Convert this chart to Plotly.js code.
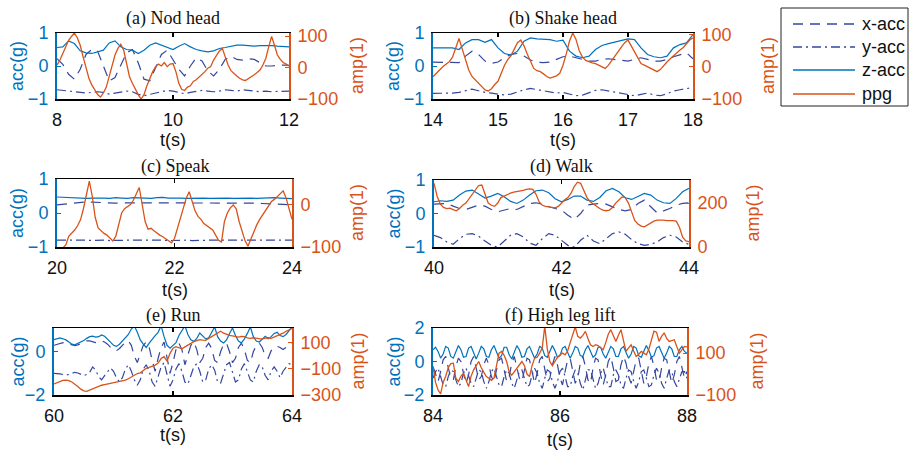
<!DOCTYPE html>
<html><head><meta charset="utf-8">
<script src="https://cdn.plot.ly/plotly-3.0.1.min.js"></script>
<style>html,body{margin:0;padding:0;background:#fff}#chart{width:909px;height:451px}</style>
</head><body><div id="chart"></div>
<script>
// ---------------- DATA ----------------
const panelTitles = ["(a) Nod head","(b) Shake head","(c) Speak","(d) Walk","(e) Run","(f) High leg lift"];
const seriesNames = ["x-acc","y-acc","z-acc","ppg"];

// (a) Nod head, 8-12 s
const nodStart = 8;
const nodX = [0.22,0.05,-0.25,-0.4,-0.1,0.35,0.5,0.45,0.0,-0.45,-0.35,0.0,0.4,0.5,0.1,-0.4,-0.45,-0.05,0.35,0.48,0.2,-0.1,-0.3,0.0,0.25,0.15,-0.15,-0.3,-0.1,0.2,0.3,0.2,0.18,0.22,0.2,0.1,0.0,0.0,0.02,0.03,0.02];
const nodY = [-0.72,-0.74,-0.76,-0.78,-0.8,-0.82,-0.8,-0.78,-0.8,-0.85,-0.82,-0.78,-0.76,-0.78,-0.86,-0.9,-0.86,-0.8,-0.76,-0.74,-0.76,-0.8,-0.84,-0.8,-0.76,-0.74,-0.76,-0.78,-0.76,-0.72,-0.74,-0.76,-0.72,-0.74,-0.76,-0.78,-0.76,-0.78,-0.77,-0.76,-0.76];
const nodZ = [0.56,0.58,0.76,0.68,0.46,0.40,0.38,0.42,0.48,0.70,0.76,0.58,0.50,0.48,0.38,0.48,0.63,0.70,0.63,0.56,0.50,0.60,0.68,0.58,0.50,0.46,0.43,0.46,0.53,0.56,0.60,0.63,0.63,0.61,0.60,0.62,0.63,0.62,0.60,0.58,0.58];
const nodPpg = [8,24,45,66,87,99,110,95,71,34,3,-34,-55,-71,-86,-94,-81,-62,-29,8,40,61,74,55,8,-29,-50,-69,-86,-100,-86,-58,-34,-13,3,11,5,16,3,11,13,-13,-50,-69,-73,-62,-58,-44,-39,-31,-20,-13,-2,3,24,40,53,61,34,8,-10,-20,-27,-34,-39,-41,-35,-31,-23,-16,-8,8,29,66,99,71,40,26,16,11,5];

// (b) Shake head, 14-18 s
const shakeStart = 14;
const shakeX = [0.12,0.12,0.12,0.12,0.1,0.3,0.45,0.35,0.15,0.08,0.12,0.25,0.35,0.38,0.3,0.18,0.12,0.1,0.12,0.2,0.28,0.3,0.25,0.2,0.15,0.15,0.2,0.22,0.2,0.18,0.15,0.2,0.25,0.2,0.15,0.15,0.2,0.28,0.35,0.4,0.22];
const shakeY = [-0.83,-0.83,-0.83,-0.82,-0.8,-0.74,-0.7,-0.75,-0.8,-0.82,-0.85,-0.88,-0.85,-0.78,-0.72,-0.68,-0.72,-0.76,-0.8,-0.82,-0.8,-0.85,-0.9,-0.88,-0.8,-0.74,-0.72,-0.76,-0.8,-0.84,-0.86,-0.9,-0.86,-0.82,-0.88,-0.9,-0.84,-0.76,-0.72,-0.68,-0.65];
const shakeZ = [0.55,0.55,0.55,0.55,0.5,0.7,0.8,0.8,0.72,0.8,0.55,0.38,0.33,0.45,0.75,0.85,0.82,0.8,0.8,0.75,0.78,0.45,0.3,0.25,0.3,0.5,0.62,0.68,0.72,0.78,0.82,0.8,0.55,0.35,0.28,0.25,0.3,0.55,0.65,0.7,0.95];
const shakePpg = [-31,-20,-10,0,8,16,30,60,88,55,20,-10,-30,-41,-50,-62,-72,-75,-68,-55,-45,-20,5,22,35,55,75,83,65,40,15,-5,-12,-15,-22,-30,-35,-32,-28,-20,5,40,80,105,85,50,30,20,15,12,10,5,0,-5,5,20,35,50,62,75,83,65,45,25,10,5,0,-5,-12,-15,-8,5,15,25,35,45,52,60,72,83,90];

// (c) Speak, 20-24 s
const speakStart = 20;
const speakX = [0.24,0.26,0.28,0.3,0.32,0.33,0.32,0.31,0.3,0.3,0.29,0.3,0.3,0.29,0.29,0.3,0.3,0.29,0.3,0.3,0.29,0.3,0.29,0.3,0.3,0.29,0.3,0.3,0.29,0.3,0.3,0.31,0.3,0.3,0.29,0.28,0.27,0.26,0.25,0.25,0.24];
const speakY = [-0.8,-0.81,-0.8,-0.8,-0.79,-0.8,-0.81,-0.8,-0.8,-0.81,-0.8,-0.79,-0.8,-0.8,-0.81,-0.8,-0.8,-0.79,-0.8,-0.81,-0.8,-0.8,-0.8,-0.81,-0.8,-0.79,-0.8,-0.8,-0.81,-0.8,-0.8,-0.8,-0.79,-0.8,-0.81,-0.8,-0.8,-0.8,-0.81,-0.8,-0.8];
const speakZ = [0.47,0.46,0.45,0.44,0.45,0.43,0.44,0.45,0.44,0.43,0.45,0.44,0.43,0.45,0.44,0.44,0.43,0.45,0.46,0.44,0.45,0.44,0.43,0.44,0.45,0.44,0.43,0.44,0.45,0.44,0.43,0.44,0.45,0.44,0.43,0.44,0.45,0.45,0.44,0.43,0.42];
const speakPpg = [-110,-108,-102,-95,-75,-68,-60,-50,-36,-10,25,55,20,-30,-55,-62,-68,-72,-80,-86,-75,-50,-20,-10,-5,0,10,25,40,0,-40,-58,-56,-62,-68,-72,-76,-80,-85,-90,-80,-55,-30,-5,15,30,5,-15,-28,-35,-45,-50,-55,-60,-72,-84,-88,-40,-20,-8,-1,-10,-40,-65,-85,-98,-80,-62,-48,-35,-25,-15,-5,7,12,18,25,32,15,-10,-35];

// (d) Walk, 40-44 s
const walkStart = 40;
const walkX = [0.28,0.3,0.3,0.22,0.15,0.12,0.18,0.25,0.22,0.12,0.05,0.1,0.15,0.12,0.2,0.3,0.32,0.28,0.2,0.15,0.1,-0.05,-0.18,0.0,0.25,0.28,0.3,0.28,0.2,0.12,0.08,0.12,0.3,0.4,0.2,0.02,0.08,0.15,0.25,0.3,0.32];
const walkY = [-0.65,-0.72,-0.85,-0.92,-0.75,-0.62,-0.6,-0.68,-0.82,-0.95,-1.0,-0.82,-0.65,-0.6,-0.7,-0.88,-0.95,-0.75,-0.6,-0.65,-0.8,-0.95,-1.0,-0.8,-0.65,-0.82,-0.9,-0.75,-0.6,-0.55,-0.62,-0.78,-0.9,-0.95,-0.92,-0.85,-0.72,-0.65,-0.7,-0.85,-0.92];
const walkZ = [0.35,0.38,0.36,0.4,0.55,0.67,0.7,0.58,0.46,0.52,0.6,0.5,0.36,0.3,0.4,0.55,0.68,0.7,0.62,0.44,0.35,0.42,0.52,0.52,0.4,0.36,0.48,0.68,0.75,0.65,0.47,0.42,0.52,0.6,0.55,0.4,0.32,0.3,0.45,0.65,0.75];
const walkPpg = [290,230,195,180,175,177,170,165,175,190,200,220,245,265,280,282,240,200,190,185,200,225,232,240,245,250,252,255,258,262,265,262,240,205,190,185,182,180,178,185,200,215,225,245,275,295,290,255,225,206,195,185,175,168,165,168,180,200,215,228,225,200,160,120,105,95,92,100,110,118,122,123,122,120,121,120,118,90,45,28,24];

// (e) Run, 60-64 s
const runStart = 60;
const runX = [0.3,0.35,0.4,0.42,0.4,0.35,0.3,0.28,0.32,0.38,0.45,0.5,0.5,0.45,0.42,0.45,0.5,0.45,0.35,0.2,0.1,0.05,0.15,0.3,0.45,0.5,0.3,-0.2,-0.5,-0.1,0.3,0.45,0.2,-0.4,-0.9,-0.3,0.2,0.45,-0.2,-1.0,-0.5,0.1,0.4,0.1,-0.6,-0.2,0.3,0.45,0.1,-0.5,-0.3,0.2,0.4,0.15,-0.4,-0.5,0.0,0.35,0.4,0.0,-0.5,-0.3,0.2,0.4,0.1,-0.4,-0.5,0.0,0.3,0.4,0.2,-0.2,-0.3,0.05,0.2,0.25,0.2,0.1,0.2,0.3,0.4];
const runY = [-1.0,-1.0,-1.02,-1.05,-1.08,-1.05,-1.0,-0.95,-0.98,-1.05,-1.1,-1.05,-0.95,-0.7,-0.85,-1.15,-1.3,-1.1,-0.9,-0.75,-0.9,-1.2,-1.4,-1.2,-0.8,-0.6,-0.9,-1.3,-1.55,-1.3,-0.8,-0.6,-0.9,-1.4,-1.6,-1.2,-0.7,-0.5,-1.0,-1.6,-1.3,-0.8,-0.55,-0.9,-1.4,-1.5,-1.1,-0.7,-0.55,-0.9,-1.4,-1.3,-0.8,-0.6,-0.85,-1.4,-1.45,-1.0,-0.6,-0.5,-0.9,-1.4,-1.3,-0.8,-0.55,-0.9,-1.3,-1.4,-0.9,-0.6,-0.7,-1.1,-1.3,-0.9,-0.7,-0.9,-1.2,-0.9,-0.7,-0.55,-0.6];
const runZ = [0.56,0.6,0.64,0.6,0.55,0.45,0.35,0.32,0.38,0.45,0.52,0.62,0.7,0.72,0.68,0.7,0.78,0.72,0.6,0.45,0.3,0.25,0.35,0.5,0.65,0.8,1.05,1.2,0.9,0.55,0.35,0.2,0.4,0.6,0.75,0.9,1.2,0.7,0.3,0.17,0.3,0.42,0.75,1.0,1.2,0.8,0.55,0.48,0.62,0.87,0.75,0.6,0.65,0.9,1.15,0.7,0.5,0.41,0.55,0.85,1.1,0.75,0.5,0.41,0.6,0.85,1.15,0.7,0.5,0.45,0.6,0.72,0.6,0.7,0.85,0.9,0.75,0.7,0.8,0.95,1.15];
const runPpg = [-215,-205,-195,-188,-186,-190,-200,-215,-235,-255,-268,-272,-262,-250,-240,-232,-225,-220,-215,-212,-208,-205,-200,-192,-185,-175,-160,-145,-135,-130,-115,-95,-88,-80,-70,-55,-20,-5,-40,20,60,72,62,55,70,85,95,110,118,125,122,120,135,148,160,178,190,175,165,158,155,150,145,150,148,140,135,140,138,132,130,138,140,135,145,150,160,175,190,200,210];

// (f) High leg lift, 84-88 s
const legStart = 84;
const legX = [-0.3,-0.8,-1.2,-0.6,0.1,0.3,-0.4,-1.0,-1.1,-0.3,0.2,0.0,-0.7,-1.3,-0.8,0.0,0.3,-0.5,-1.1,-0.9,-0.2,0.2,-0.2,-0.9,-1.2,-0.5,0.1,0.2,-0.6,-1.2,-0.9,-0.1,0.3,-0.3,-1.0,-1.2,-0.4,0.2,0.1,-0.7,-1.3,-0.7,0.1,0.3,-0.5,-1.2,-1.0,-0.2,0.3,-0.2,-1.0,-1.4,-0.6,0.1,0.2,-0.6,-1.3,-1.0,-0.1,0.3,-0.3,-1.1,-1.3,-0.4,0.2,0.1,-0.8,-1.4,-0.8,0.0,0.3,-0.4,-1.2,-1.1,-0.2,0.3,-0.1,-0.9,-1.3,-0.6,0.1,0.2,-0.6,-1.3,-0.9,-0.1,0.3,-0.3,-1.1,-1.2,-0.4,0.2,0.1,-0.7,-1.3,-0.8,0.0,0.3,-0.4,-1.0,-0.6];
const legY = [-1.0,-0.6,-0.4,-0.9,-1.4,-1.5,-0.9,-0.5,-0.6,-1.1,-1.5,-1.3,-0.7,-0.4,-0.8,-1.3,-1.5,-1.0,-0.5,-0.6,-1.2,-1.6,-1.2,-0.6,-0.4,-0.9,-1.4,-1.5,-0.9,-0.5,-0.7,-1.3,-1.6,-1.1,-0.6,-0.5,-1.0,-1.5,-1.4,-0.8,-0.4,-0.7,-1.3,-1.6,-1.0,-0.5,-0.6,-1.2,-1.6,-1.2,-0.6,-0.4,-0.9,-1.5,-1.5,-0.9,-0.5,-0.7,-1.3,-1.7,-1.1,-0.5,-0.5,-1.1,-1.6,-1.3,-0.7,-0.4,-0.9,-1.5,-1.5,-0.8,-0.5,-0.8,-1.4,-1.6,-1.0,-0.5,-0.6,-1.2,-1.6,-1.2,-0.6,-0.5,-1.0,-1.5,-1.4,-0.8,-0.4,-0.7,-1.3,-1.6,-1.0,-0.5,-0.6,-1.2,-1.5,-1.1,-0.6,-0.6,-1.0];
const legZ = [0.7,0.85,0.6,0.2,0.45,0.9,0.8,0.3,0.2,0.6,0.95,0.7,0.25,0.3,0.8,0.9,0.5,0.15,0.5,0.9,0.75,0.3,0.25,0.7,0.95,0.6,0.2,0.35,0.85,0.85,0.4,0.15,0.55,0.95,0.7,0.25,0.3,0.75,0.9,0.5,0.2,0.45,0.9,0.8,0.35,0.25,0.65,0.95,0.65,0.25,0.35,0.8,0.9,0.5,0.2,0.5,0.9,0.8,0.35,0.3,0.7,0.95,0.6,0.25,0.4,0.85,0.85,0.45,0.2,0.55,0.9,0.75,0.3,0.3,0.75,0.9,0.55,0.2,0.45,0.9,0.8,0.35,0.25,0.65,0.95,0.65,0.25,0.35,0.8,0.9,0.5,0.2,0.5,0.9,0.75,0.3,0.3,0.7,0.9,0.6,0.5];
const legPpg = [36,-40,-76,-95,-40,-10,30,50,52,-20,-36,-10,4,-30,-60,-10,20,40,60,30,10,-12,-20,-30,-20,40,100,108,90,60,10,-5,10,28,40,60,40,0,-12,40,76,80,100,124,228,120,60,40,60,80,92,100,92,110,150,190,225,180,172,185,204,170,140,132,140,136,125,116,150,190,212,180,156,185,212,160,108,125,140,110,84,95,108,100,92,120,164,205,200,156,180,197,170,156,160,164,130,100,115,132,130];

// axis ticks / ranges
const xTicks = [[8,10,12],[14,15,16,17,18],[20,22,24],[40,42,44],[60,62,64],[84,86,88]];
const accTicks = [[-1,0,1],[-1,0,1],[-1,0,1],[-1,0,1],[-2,0],[-2,0,2]];
const accRanges = [[-1,1],[-1,1],[-1,1],[-1,1],[-2,1.1],[-2,2]];
const ampTicks = [[-100,0,100],[-100,0,100],[-100,0],[0,200],[-300,-100,100],[-100,100]];
const ampRanges = [[-100,110],[-100,105],[-100,60],[0,305],[-300,215],[-100,220]];

// ---------------- LAYOUT / DRAW ----------------
const W = 909, H = 451;
const C_ACC = '#35469c', C_Z = '#0072BD', C_PPG = '#D95319';
const SANS = 'Liberation Sans, Arial, sans-serif';
const SERIF = 'Liberation Serif, Times New Roman, serif';

const panels = [
  {start:nodStart,   x:nodX,   y:nodY,   z:nodZ,   p:nodPpg},
  {start:shakeStart, x:shakeX, y:shakeY, z:shakeZ, p:shakePpg},
  {start:speakStart, x:speakX, y:speakY, z:speakZ, p:speakPpg},
  {start:walkStart,  x:walkX,  y:walkY,  z:walkZ,  p:walkPpg},
  {start:runStart,   x:runX,   y:runY,   z:runZ,   p:runPpg},
  {start:legStart,   x:legX,   y:legY,   z:legZ,   p:legPpg}
];
// pixel boxes [left, right, top, bottom]
const boxes = [[57,289,33,99],[433,693,33,99],[57,292,179,247],[434,689,180,247],[54,292,328,395],[433,687,328,395]];
const ampTitleX = [357,768,357,752,357,756];
const xTitleY = [140,140,290,290,435,440];
const titleY = [18,18,166,166,315,315];

function timeAxis(start, n){ const a=[]; for(let i=0;i<n;i++) a.push(start + 4*i/(n-1)); return a; }
const px = v => v/W, py = v => 1 - v/H;

const traces = [], layout = {
  width:W, height:H, margin:{l:0,r:0,t:0,b:0}, showlegend:false,
  paper_bgcolor:'#fff', plot_bgcolor:'rgba(0,0,0,0)',
  annotations:[], shapes:[]
};

panels.forEach((pn,k)=>{
  const xa = 'x'+(k+1), yl = 'y'+(2*k+1), yr = 'y'+(2*k+2);
  const b = boxes[k];
  traces.push({x:timeAxis(pn.start,pn.p.length), y:pn.p, xaxis:xa, yaxis:yr, mode:'lines', line:{color:C_PPG,width:1.3}, name:'ppg'});
  traces.push({x:timeAxis(pn.start,pn.y.length), y:pn.y, xaxis:xa, yaxis:yl, mode:'lines', line:{color:C_ACC,width:1.2,dash:'9px,4px,2px,4px'}, name:'y-acc'});
  traces.push({x:timeAxis(pn.start,pn.x.length), y:pn.x, xaxis:xa, yaxis:yl, mode:'lines', line:{color:C_ACC,width:1.2,dash:'10px,7px'}, name:'x-acc'});
  traces.push({x:timeAxis(pn.start,pn.z.length), y:pn.z, xaxis:xa, yaxis:yl, mode:'lines', line:{color:C_Z,width:1.2}, name:'z-acc'});

  const xk = k===0?'xaxis':'xaxis'+(k+1);
  const ylk = 'yaxis'+(2*k===0?'':(2*k+1));
  const yrk = 'yaxis'+(2*k+2);
  layout[xk] = {domain:[px(b[0]),px(b[1])], anchor:yl, range:[pn.start,pn.start+4], tickvals:xTicks[k],
    showline:true, linecolor:'#000', linewidth:1.5, mirror:'ticks', ticks:'inside', ticklen:4, tickcolor:'#000', tickwidth:1.5,
    showgrid:false, zeroline:false, tickfont:{family:SANS,size:18,color:'#111'}, ticklabelstandoff:4};
  layout[ylk] = {domain:[py(b[3]),py(b[2])], anchor:xa, side:'left', range:accRanges[k], tickvals:accTicks[k],
    showline:true, linecolor:C_Z, linewidth:2, ticks:'inside', ticklen:4, tickcolor:C_Z,
    showgrid:false, zeroline:false, tickfont:{family:SANS,size:18,color:C_Z}, ticklabelstandoff:3};
  layout[yrk] = {domain:[py(b[3]),py(b[2])], anchor:xa, overlaying:yl, side:'right', range:ampRanges[k], tickvals:ampTicks[k],
    showline:true, linecolor:C_PPG, linewidth:2, ticks:'inside', ticklen:4, tickcolor:C_PPG,
    showgrid:false, zeroline:false, tickfont:{family:SANS,size:18,color:C_PPG}, ticklabelstandoff:3};

  const cx = (b[0]+b[1])/2, cy = (b[2]+b[3])/2;
  const ann = (text,x,y,font,angle)=>layout.annotations.push({text, x:px(x), y:py(y), xref:'paper', yref:'paper',
    showarrow:false, xanchor:'center', yanchor:'middle', textangle:angle||0, font});
  ann(panelTitles[k], cx, titleY[k], {family:SERIF,size:18,color:'#111'});
  ann('t(s)', cx, xTitleY[k], {family:SANS,size:18,color:'#111'});
  ann('acc(g)', k%2===0?17:393, cy, {family:SANS,size:18,color:C_Z}, -90);
  ann('amp(1)', ampTitleX[k], cy, {family:SANS,size:18,color:C_PPG}, -90);
});

// legend box (manual)
layout.shapes.push({type:'rect', xref:'paper', yref:'paper', x0:px(781), x1:px(908), y0:py(106), y1:py(8), line:{color:'#222',width:1}, fillcolor:'#fff'});
const legStyles = [
  {color:C_ACC, dash:'10px,7px'},
  {color:C_ACC, dash:'9px,4px,2px,4px'},
  {color:C_Z, dash:'solid'},
  {color:C_PPG, dash:'solid'}
];
const legRows = [24,47,70,94];
seriesNames.forEach((nm,i)=>{
  layout.shapes.push({type:'line', xref:'paper', yref:'paper', x0:px(793), x1:px(855), y0:py(legRows[i]), y1:py(legRows[i]),
    line:{color:legStyles[i].color, width:1.5, dash:legStyles[i].dash}});
  layout.annotations.push({text:nm, x:px(860), y:py(legRows[i]), xref:'paper', yref:'paper', showarrow:false,
    xanchor:'left', yanchor:'middle', font:{family:SANS,size:18,color:'#111'}});
});

Plotly.newPlot('chart', traces, layout, {staticPlot:true, displayModeBar:false});
</script></body></html>
